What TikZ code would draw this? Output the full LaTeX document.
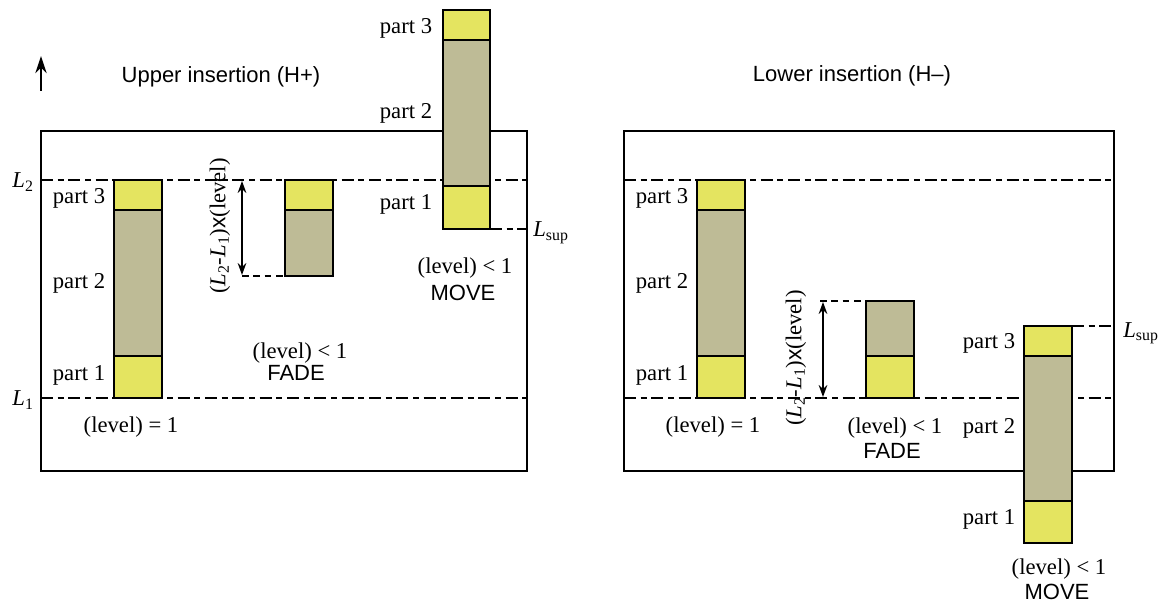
\documentclass[tikz,border=0pt]{standalone}
\usepackage{fontspec}
\setmainfont{Liberation Serif}
\setsansfont{Liberation Sans}
\usetikzlibrary{arrows.meta}
\definecolor{partyellow}{RGB}{228,228,96}
\definecolor{partolive}{RGB}{190,187,150}
\tikzset{
  frame/.style={draw=black, line width=1.1pt},
  level/.style={draw=black, line width=1pt, dash pattern=on 9pt off 3.5pt on 4.5pt off 3.5pt},
  shortdash/.style={draw=black, line width=1pt, dash pattern=on 5pt off 3.5pt},
  ybox/.style={fill=partyellow, draw=black, line width=1.1pt},
  obox/.style={fill=partolive, draw=black, line width=1.1pt},
  lbl/.style={font=\fontsize{17}{20}\selectfont, inner sep=0pt},
  slbl/.style={font=\sffamily\fontsize{16.5}{20}\selectfont, inner sep=0pt},
  dimarrow/.style={line width=1pt, {Stealth[length=9pt,width=6.5pt]}-{Stealth[length=9pt,width=6.5pt]}},
}
\newcommand{\Lv}[1]{\textit{L}\textsubscript{#1}}
\begin{document}
\begin{tikzpicture}[x=0.75pt, y=-0.75pt]
\useasboundingbox (0,0) rectangle (1164,605);

% ===== Left panel: Upper insertion =====
\draw[frame] (41,131) rectangle (527,471);
\draw[line width=1.1pt, -{Stealth[length=13pt,width=8.5pt]}] (41,91) -- (41,56);
\node[slbl] (titleU) at (221,77) {Upper insertion (H+)};
\draw[level] (41,180) -- (527,180);
\draw[level] (41,398) -- (527,398);
\node[lbl] (L2a) at (23,182) {\Lv{2}};
\node[lbl] (L1a) at (23,400) {\Lv{1}};

% full bar
\draw[ybox] (114,180) rectangle (162,210);
\draw[obox] (114,210) rectangle (162,356);
\draw[ybox] (114,356) rectangle (162,398);
\node[lbl] (ua3) at (79,198) {part 3};
\node[lbl] (ua2) at (79,283) {part 2};
\node[lbl] (ua1) at (79,375) {part 1};
\node[lbl] (uaLev) at (131,427) {(level) = 1};

% fade bar
\draw[shortdash] (242,276) -- (285,276);
\draw[ybox] (285,180) rectangle (333,210);
\draw[obox] (285,210) rectangle (333,276);
\coordinate (ufT) at (242,181);
\coordinate (ufB) at (242,275);
\draw[dimarrow] (ufT) -- (ufB);
\node[lbl, rotate=90] (ufDim) at (220,226) {(\Lv{2}-\Lv{1})\textsf{x}(level)};
\node[lbl] (ufLev) at (300,353) {(level) {<} 1};
\node[slbl] (ufName) at (296,373) {FADE};

% move bar
\draw[ybox] (443,10) rectangle (490,40);
\draw[obox] (443,40) rectangle (490,186);
\draw[ybox] (443,186) rectangle (490,229);
\draw[level] (490,229) -- (527,229);
\node[lbl] (um3) at (406,28) {part 3};
\node[lbl] (um2) at (406,113) {part 2};
\node[lbl] (um1) at (406,204) {part 1};
\node[lbl] (umSup) at (551,233) {\Lv{sup}};
\node[lbl] (umLev) at (465,268) {(level) {<} 1};
\node[slbl] (umName) at (463,293) {MOVE};

% ===== Right panel: Lower insertion =====
\draw[frame] (624,131) rectangle (1114,471);
\node[slbl] (titleL) at (852,76) {Lower insertion (H--)};
\draw[level] (624,180) -- (1114,180);
\draw[level] (624,398) -- (1114,398);

% full bar
\draw[ybox] (697,180) rectangle (745,210);
\draw[obox] (697,210) rectangle (745,356);
\draw[ybox] (697,356) rectangle (745,398);
\node[lbl] (la3) at (662,198) {part 3};
\node[lbl] (la2) at (662,283) {part 2};
\node[lbl] (la1) at (662,375) {part 1};
\node[lbl] (laLev) at (713,427) {(level) = 1};

% fade bar
\draw[shortdash] (820,301) -- (866,301);
\draw[obox] (866,301) rectangle (914,356);
\draw[ybox] (866,356) rectangle (914,398);
\coordinate (lfT) at (823,302);
\coordinate (lfB) at (823,397);
\draw[dimarrow] (lfT) -- (lfB);
\node[lbl, rotate=90] (lfDim) at (796,358) {(\Lv{2}-\Lv{1})\textsf{x}(level)};
\node[lbl] (lfLev) at (895,428) {(level) {<} 1};
\node[slbl] (lfName) at (892,451) {FADE};

% move bar
\draw[level] (1072,326) -- (1114,326);
\draw[ybox] (1024,326) rectangle (1072,356);
\draw[obox] (1024,356) rectangle (1072,501);
\draw[ybox] (1024,501) rectangle (1072,543);
\node[lbl] (lm3) at (989,343) {part 3};
\node[lbl] (lm2) at (989,428) {part 2};
\node[lbl] (lm1) at (989,519) {part 1};
\node[lbl] (lmSup) at (1141,333) {\Lv{sup}};
\node[lbl] (lmLev) at (1059,569) {(level) {<} 1};
\node[slbl] (lmName) at (1057,592) {MOVE};
\end{tikzpicture}
\end{document}
